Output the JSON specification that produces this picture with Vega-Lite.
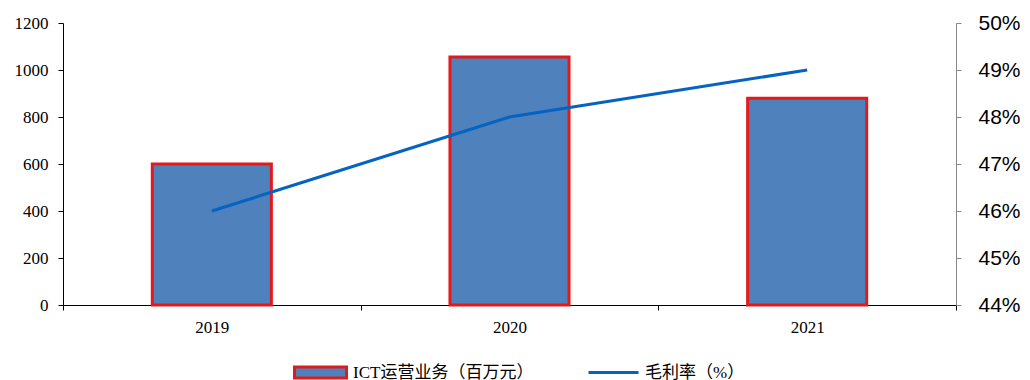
{
  "$schema": "https://vega.github.io/schema/vega-lite/v6.json",
  "width": 893,
  "height": 282,
  "autosize": {"type": "none"},
  "padding": {"left": 63, "top": 23, "right": 74, "bottom": 75},
  "background": "white",
  "config": {"view": {"stroke": null}},
  "data": {"values": [
    {"year": "2019", "revenue": 600, "margin": 0.46},
    {"year": "2020", "revenue": 1055, "margin": 0.48},
    {"year": "2021", "revenue": 880, "margin": 0.49}
  ]},
  "encoding": {
    "x": {"field": "year", "type": "nominal", "sort": null,
      "scale": {"paddingInner": 0, "paddingOuter": 0},
      "axis": {"title": null, "labelAngle": 0, "labelFont": "Liberation Serif", "labelFontSize": 17, "labelColor": "#000",
        "labelPadding": 9, "tickBand": "extent", "tickSize": 5, "tickColor": "#000", "domainColor": "#000", "grid": false}}
  },
  "layer": [
    {
      "mark": {"type": "bar", "width": {"band": 0.4}, "stroke": "#E31A1C", "strokeWidth": 3, "strokeJoin": "miter"},
      "encoding": {
        "y": {"field": "revenue", "type": "quantitative",
          "scale": {"domain": [0, 1200], "nice": false},
          "axis": {"title": null, "values": [0, 200, 400, 600, 800, 1000, 1200], "format": "d", "grid": false,
            "labelFont": "Liberation Serif", "labelFontSize": 17, "labelColor": "#000", "labelPadding": 10,
            "tickSize": 5, "tickColor": "#000", "domainColor": "#000"}},
        "fill": {"datum": "ICT运营业务（百万元）", "type": "nominal",
          "scale": {"domain": ["ICT运营业务（百万元）"], "range": ["#4F81BD"]},
          "legend": {
            "title": null, "orient": "none", "legendX": 246, "legendY": 338, "direction": "horizontal",
            "padding": 0, "labelOffset": 21, "labelLimit": 400,
            "labelFont": "Liberation Serif, Noto Sans CJK SC", "labelFontSize": 17, "labelColor": "#000",
            "symbolSize": 400, "symbolType": "M-2.6,-0.55H2.6V0.55H-2.6Z",
            "symbolStrokeColor": "#E31A1C", "symbolStrokeWidth": 3, "symbolOpacity": 1,
            "encode": {"symbols": {"update": {"stroke": {"value": "#E31A1C"}, "strokeWidth": {"value": 3}}}}
          }}
      }
    },
    {
      "mark": {"type": "line", "strokeWidth": 3},
      "encoding": {
        "y": {"field": "margin", "type": "quantitative",
          "scale": {"domain": [0.44, 0.50], "nice": false, "zero": false},
          "axis": {"title": null, "orient": "right", "format": ".0%", "values": [0.44, 0.45, 0.46, 0.47, 0.48, 0.49, 0.50],
            "grid": false, "labelFont": "Liberation Sans", "labelFontSize": 21, "labelColor": "#000", "labelPadding": 17,
            "tickSize": 5, "tickColor": "#888", "domainColor": "#888"}},
        "stroke": {"datum": "毛利率（%）", "type": "nominal",
          "scale": {"domain": ["毛利率（%）"], "range": ["#0563C1"]},
          "legend": {
            "title": null, "orient": "none", "legendX": 539, "legendY": 338, "direction": "horizontal",
            "padding": 0, "labelOffset": 20, "labelLimit": 400,
            "labelFont": "Liberation Serif, Noto Sans CJK SC", "labelFontSize": 17, "labelColor": "#000",
            "symbolSize": 400, "symbolType": "M-2.5,0H2.5", "symbolStrokeWidth": 3
          }}
      }
    }
  ],
  "resolve": {"scale": {"y": "independent"}}
}
